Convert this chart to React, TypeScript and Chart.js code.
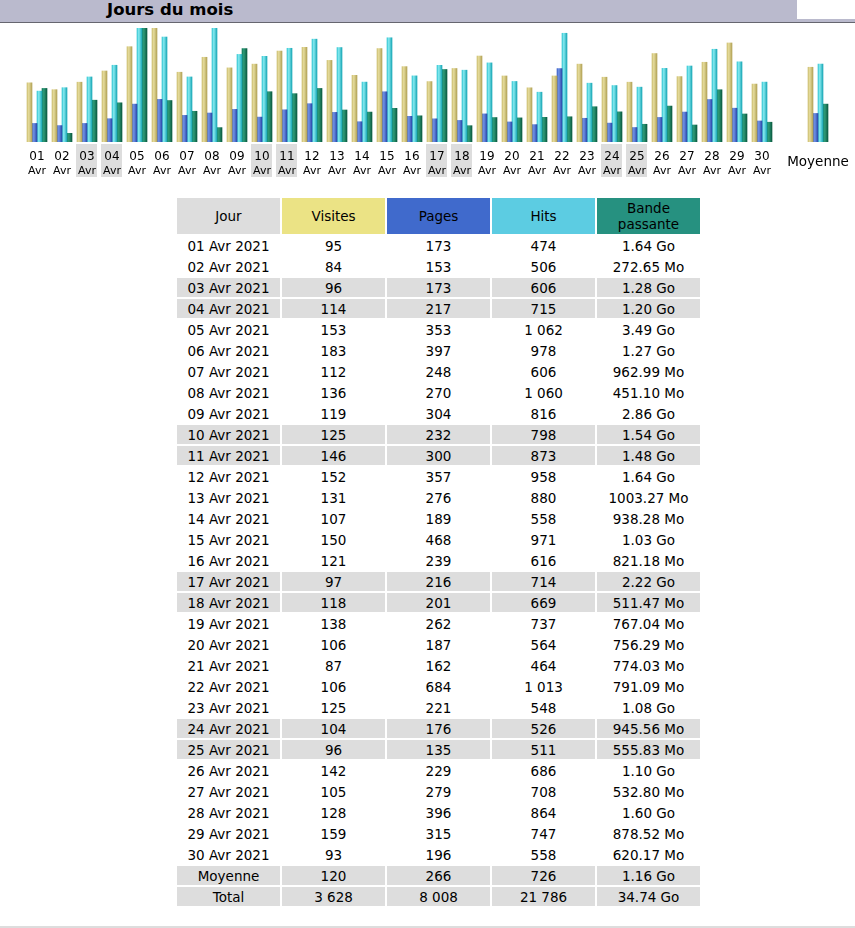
import React, { useEffect, useRef } from "react";
import { Chart, registerables } from "chart.js";

Chart.register(...registerables);

// ---------- data ----------
const days = ["01", "02", "03", "04", "05", "06", "07", "08", "09", "10", "11", "12", "13", "14", "15", "16", "17", "18", "19", "20", "21", "22", "23", "24", "25", "26", "27", "28", "29", "30"];
const monthLabel = "Avr";
const yearLabel = "2021";
const weekendDays = ["03", "04", "10", "11", "17", "18", "24", "25"];

const visits = [95, 84, 96, 114, 153, 183, 112, 136, 119, 125, 146, 152, 131, 107, 150, 121, 97, 118, 138, 106, 87, 106, 125, 104, 96, 142, 105, 128, 159, 93];
const pages = [173, 153, 173, 217, 353, 397, 248, 270, 304, 232, 300, 357, 276, 189, 468, 239, 216, 201, 262, 187, 162, 684, 221, 176, 135, 229, 279, 396, 315, 196];
const hits = [474, 506, 606, 715, 1062, 978, 606, 1060, 816, 798, 873, 958, 880, 558, 971, 616, 714, 669, 737, 564, 464, 1013, 548, 526, 511, 686, 708, 864, 747, 558];
const bandwidth = ["1.64 Go", "272.65 Mo", "1.28 Go", "1.20 Go", "3.49 Go", "1.27 Go", "962.99 Mo", "451.10 Mo", "2.86 Go", "1.54 Go", "1.48 Go", "1.64 Go", "1003.27 Mo", "938.28 Mo", "1.03 Go", "821.18 Mo", "2.22 Go", "511.47 Mo", "767.04 Mo", "756.29 Mo", "774.03 Mo", "791.09 Mo", "1.08 Go", "945.56 Mo", "555.83 Mo", "1.10 Go", "532.80 Mo", "1.60 Go", "878.52 Mo", "620.17 Mo"];

const averageLabel = "Moyenne";
const averageCounts = [120, 266, 726]; // visites, pages, hits
const averageBandwidth = "1.16 Go";
const totalLabel = "Total";
const totalCounts = [3628, 8008, 21786];
const totalBandwidth = "34.74 Go";

const headers = ["Jour", "Visites", "Pages", "Hits", "Bande passante"];
const title = "Jours du mois";

// ---------- style ----------
const FONT = '"DejaVu Sans", Verdana, sans-serif';
const headerColors = ["#dddddd", "#ebe385", "#406acc", "#5cccE2", "#269180"];
const rowGray = "#dddddd";
const barGradients = [
  ["#cdbf72", "#e6dc9c", "#b3a357"],
  ["#3d61c6", "#7092e6", "#2a48a8"],
  ["#35c6d2", "#86eaf0", "#1aa8b6"],
  ["#137a5a", "#2f9c78", "#0a5a40"],
];

const X_MIN = -0.48;
const X_MAX = 33.72;
const AVG_X = 32.24;

function parseBandwidth(s: string): number {
  const [num, unit] = s.split(" ");
  const v = parseFloat(num);
  return unit === "Go" ? v * 1024 : v; // in Mo
}

function fmt(n: number): string {
  return n.toString().replace(/\B(?=(\d{3})+(?!\d))/g, " ");
}

function DailyChart() {
  const ref = useRef<HTMLCanvasElement>(null);
  useEffect(() => {
    const canvas = ref.current!;
    const bwValues = bandwidth.map(parseBandwidth);
    const mk = (arr: number[], avg: number) => [
      ...arr.map((v, i) => ({ x: i + 1, y: v })),
      { x: AVG_X, y: avg },
    ];
    const grad = (stops: string[]) => (c: any) => {
      const el = c.element;
      if (!el || typeof el.x !== "number" || isNaN(el.x) || !el.width) return stops[0];
      const g = c.chart.ctx.createLinearGradient(el.x - el.width / 2, 0, el.x + el.width / 2, 0);
      g.addColorStop(0, stops[0]);
      g.addColorStop(0.35, stops[1]);
      g.addColorStop(1, stops[2]);
      return g;
    };

    const labelPlugin = {
      id: "dayLabels",
      afterDraw(chart: any) {
        const { ctx } = chart;
        const x = chart.scales.x;
        ctx.save();
        ctx.textAlign = "center";
        ctx.textBaseline = "alphabetic";
        days.forEach((d, i) => {
          const cx = Math.round(x.getPixelForValue(i + 1));
          if (weekendDays.includes(d)) {
            ctx.fillStyle = rowGray;
            ctx.fillRect(cx - 11, 121, 21, 33);
          }
          ctx.fillStyle = "#000";
          ctx.font = `12px ${FONT}`;
          ctx.fillText(d, cx, 137);
          ctx.font = `11px ${FONT}`;
          ctx.fillText(monthLabel, cx, 150.5);
        });
        ctx.font = `13.5px ${FONT}`;
        ctx.fillStyle = "#000";
        ctx.fillText(averageLabel, x.getPixelForValue(AVG_X), 142.5);
        ctx.restore();
      },
    };

    const chart = new Chart(canvas, {
      type: "bar",
      data: {
        datasets: [
          { label: "Visites", data: mk(visits, averageCounts[0]), yAxisID: "yV", backgroundColor: grad(barGradients[0]) },
          { label: "Pages", data: mk(pages, averageCounts[1]), yAxisID: "yH", backgroundColor: grad(barGradients[1]) },
          { label: "Hits", data: mk(hits, averageCounts[2]), yAxisID: "yH", backgroundColor: grad(barGradients[2]) },
          { label: "Bande passante", data: mk(bwValues, parseBandwidth(averageBandwidth)), yAxisID: "yK", backgroundColor: grad(barGradients[3]) },
        ] as any,
      },
      options: {
        animation: false,
        responsive: false,
        devicePixelRatio: 1,
        layout: { padding: { left: 0, right: 0, top: 5, bottom: 41 } },
        datasets: { bar: { barThickness: 5, borderWidth: 0 } } as any,
        plugins: { legend: { display: false }, tooltip: { enabled: false } },
        scales: {
          x: { type: "linear", min: X_MIN, max: X_MAX, offset: false, display: false, grid: { offset: false } },
          yV: { type: "linear", min: 0, max: Math.max(...visits), display: false },
          yH: { type: "linear", min: 0, max: Math.max(...hits), display: false },
          yK: { type: "linear", min: 0, max: Math.max(...bwValues), display: false },
        } as any,
      },
      plugins: [labelPlugin],
    });
    chart.update();
    return () => chart.destroy();
  }, []);
  return (
    <canvas
      ref={ref}
      width={855}
      height={160}
      style={{ position: "absolute", left: 0, top: 23, width: 855, height: 160, display: "block" }}
    />
  );
}

function DataTable() {
  const cell = (bg: string | undefined, content: React.ReactNode, key: number, h = 19) => (
    <td
      key={key}
      style={{
        width: 103,
        height: h,
        padding: 0,
        background: bg,
        textAlign: "center",
        verticalAlign: "middle",
        fontFamily: FONT,
        fontSize: 13.5,
        lineHeight: "16px",
        color: "#000",
        whiteSpace: "nowrap",
      }}
    >
      {content}
    </td>
  );
  return (
    <table
      style={{
        position: "absolute",
        left: 175,
        top: 196,
        borderCollapse: "separate",
        borderSpacing: 2,
        tableLayout: "fixed",
      }}
    >
      <tbody>
        <tr>
          {headers.map((h, i) =>
            cell(headerColors[i], i === 4 ? (<span>Bande<br />passante</span>) : h, i, 36)
          )}
        </tr>
        {days.map((d, i) => {
          const bg = weekendDays.includes(d) ? rowGray : undefined;
          return (
            <tr key={d}>
              {cell(bg, `${d} ${monthLabel} ${yearLabel}`, 0)}
              {cell(bg, fmt(visits[i]), 1)}
              {cell(bg, fmt(pages[i]), 2)}
              {cell(bg, fmt(hits[i]), 3)}
              {cell(bg, bandwidth[i], 4)}
            </tr>
          );
        })}
        <tr>
          {cell(rowGray, averageLabel, 0)}
          {averageCounts.map((v, i) => cell(rowGray, fmt(v), i + 1))}
          {cell(rowGray, averageBandwidth, 4)}
        </tr>
        <tr>
          {cell(rowGray, totalLabel, 0)}
          {totalCounts.map((v, i) => cell(rowGray, fmt(v), i + 1))}
          {cell(rowGray, totalBandwidth, 4)}
        </tr>
      </tbody>
    </table>
  );
}

export default function App() {
  return (
    <div style={{ position: "absolute", left: 0, top: 0, width: 855, height: 928, background: "#fff", overflow: "hidden" }}>
      <div
        style={{
          position: "absolute",
          left: 0,
          top: 0,
          width: 855,
          height: 22,
          background: "#babacd",
          borderBottom: "1px solid #66666f",
        }}
      >
        <div style={{ position: "absolute", left: 797, top: 0, width: 58, height: 19, background: "#fff" }} />
        <div
          style={{
            position: "absolute",
            left: 107,
            top: 0,
            fontFamily: FONT,
            fontWeight: "bold",
            fontSize: 16.5,
            lineHeight: "20px",
            color: "#000",
            whiteSpace: "nowrap",
          }}
        >
          {title}
        </div>
      </div>
      <DailyChart />
      <DataTable />
      <div style={{ position: "absolute", left: 0, top: 926, width: 855, height: 2, background: "#dddddd" }} />
    </div>
  );
}
